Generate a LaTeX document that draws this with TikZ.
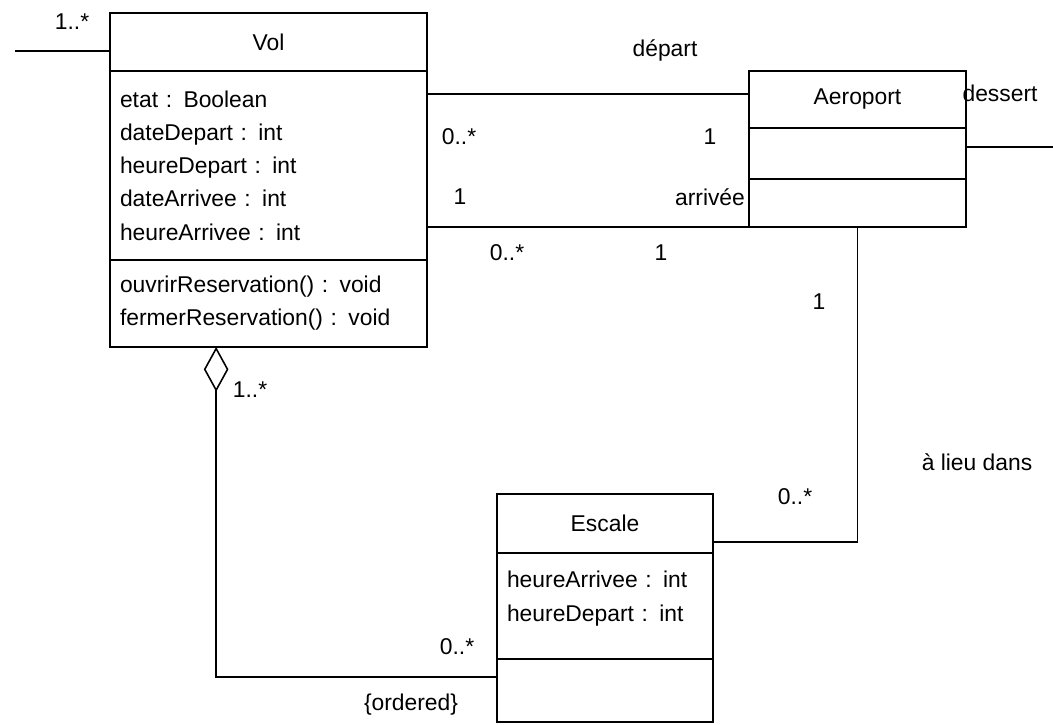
\documentclass[tikz,border=0pt]{standalone}
\usepackage{fontspec}
\setmainfont{Liberation Sans}
\usetikzlibrary{positioning,arrows.meta}

\tikzset{
  box/.style={draw, line width=0.9pt, outer sep=0pt, inner xsep=5.7pt,
    font=\fontsize{13}{18.9}\selectfont},
  volbox/.style={box, text width=6.34cm-11.4pt},
  aerobox/.style={box, text width=4.34cm-11.4pt},
  escbox/.style={box, text width=4.32cm-11.4pt},
  lbl/.style={font=\fontsize{13}{15}\selectfont, inner sep=1pt},
  assoc/.style={line width=0.9pt}
}

\begin{document}
\begin{tikzpicture}[x=0.02cm, y=-0.02cm]
  \useasboundingbox (0,0) rectangle (1053,724);

  % classe Vol
  \node[volbox, align=center, minimum height=1.16cm, anchor=north] (volH) at (268.5,13) {Vol};
  \node[volbox, align=left, minimum height=3.78cm, below=0pt of volH] (volA)
    {etat : Boolean\\dateDepart : int\\heureDepart : int\\dateArrivee : int\\heureArrivee : int};
  \node[volbox, align=left, minimum height=1.74cm, below=0pt of volA] (volO)
    {ouvrirReservation() : void\\fermerReservation() : void};

  % classe Aeroport
  \node[aerobox, align=center, minimum height=1.14cm, anchor=north] (aeroH) at (857.5,71) {Aeroport};
  \node[aerobox, minimum height=1.02cm, below=0pt of aeroH] (aeroA) {};
  \node[aerobox, minimum height=0.96cm, below=0pt of aeroA] (aeroO) {};

  % classe Escale
  \node[escbox, align=center, minimum height=1.18cm, anchor=north] (escH) at (605,494) {Escale};
  \node[escbox, align=left, minimum height=2.12cm, text depth=30pt, below=0pt of escH] (escA)
    {heureArrivee : int\\heureDepart : int};
  \node[escbox, minimum height=1.26cm, below=0pt of escA] (escO) {};

  % extremites libres et points d'accroche
  \coordinate (volFree) at (15,51);
  \coordinate (dessertEnd) at (1053,147);
  \coordinate (departA) at ([yshift=3pt]aeroH.west);

  % associations
  \draw[assoc] (volFree) -- (volFree -| volH.west);
  \draw[assoc] (volA.east |- departA) -- (departA);
  \draw[assoc] (volA.east |- aeroO.south west) -- (aeroO.south west);
  \draw[assoc] (aeroA.east |- dessertEnd) -- (dessertEnd);
  \draw[assoc] (aeroO.south) |- ([yshift=-10.5pt]escH.east);
  \draw[assoc, {Diamond[open, length=25.5pt, width=14pt, line width=0.9pt]}-]
    ([xshift=-29.8pt]volO.south) |- ([yshift=7.7pt]escO.west);

  % roles et multiplicites
  \node[lbl] (mVolFree) at (72,22) {1..*};
  \node[lbl] (rDepart) at (665,50) {départ};
  \node[lbl] (mDepVol) at (459,137) {0..*};
  \node[lbl] (mDepAero) at (710,137) {1};
  \node[lbl] (mArrVol) at (460,197) {1};
  \node[lbl, anchor=east] (rArrivee) at (747,197) {arrivée};
  \node[lbl] (mArrVol2) at (507,253) {0..*};
  \node[lbl] (mArrAero) at (661,253) {1};
  \node[lbl] (rDessert) at (1000,93) {dessert};
  \node[lbl] (mLieuAero) at (819,302) {1};
  \node[lbl] (rLieu) at (977,462) {à lieu dans};
  \node[lbl] (mLieuEsc) at (795,497) {0..*};
  \node[lbl] (mAggVol) at (250,390) {1..*};
  \node[lbl] (mAggEsc) at (457,647) {0..*};
  \node[lbl] (cOrdered) at (411,705) {\{ordered\}};
\end{tikzpicture}
\end{document}
